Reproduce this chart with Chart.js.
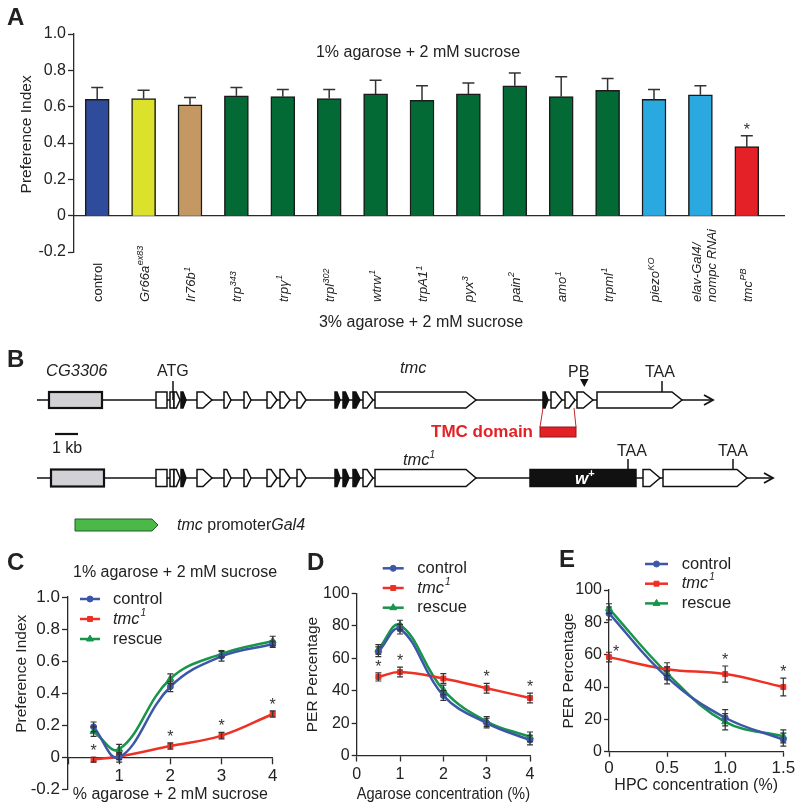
<!DOCTYPE html>
<html>
<head>
<meta charset="utf-8">
<script src="https://cdn.jsdelivr.net/npm/chart.js@4.4.0/dist/chart.umd.min.js"></script>
<style>
  html, body { margin: 0; padding: 0; background: #fff; }
  body { width: 800px; height: 812px; position: relative; overflow: hidden;
         font-family: 'Liberation Sans', Arial, sans-serif; }
  canvas, svg { position: absolute; }
  #chartA { left: 0; top: 0; }
  #chartC { left: 0; top: 540px; }
  #chartD { left: 270px; top: 540px; }
  #chartE { left: 540px; top: 540px; }
  #overlay { left: 0; top: 0; pointer-events: none; }
</style>
</head>
<body>
<canvas id="chartA" width="800" height="330"></canvas>
<canvas id="chartC" width="285" height="297"></canvas>
<canvas id="chartD" width="280" height="272"></canvas>
<canvas id="chartE" width="260" height="272"></canvas>
<svg id="overlay" width="800" height="812" font-family="Liberation Sans, Arial, sans-serif" fill="#222"></svg>

<script>
// ---------- A: preference index, 3% vs 1% agarose ----------
const genotypes = ['control', 'Gr66a', 'Ir76b', 'trp', 'trp\u03b3', 'trpl', 'wtrw', 'trpA1', 'pyx', 'pain',
                   'amo', 'trpml', 'piezo', 'elav-Gal4/|nompc RNAi', 'tmc'];
const genoSup = ['', 'ex83', '1', '343', '1', '302', '1', '1', '3', '2', '1', '1', 'KO', '', 'PB'];
const prefIndex = [0.64, 0.645, 0.61, 0.66, 0.655, 0.645, 0.67, 0.635, 0.67, 0.715, 0.655, 0.69, 0.64, 0.665, 0.38];
const prefErr = [0.065, 0.045, 0.04, 0.045, 0.04, 0.05, 0.075, 0.08, 0.06, 0.07, 0.11, 0.065, 0.055, 0.05, 0.06];
const sigA = [false, false, false, false, false, false, false, false, false, false, false, false, false, false, true];
const barColors = ['#2f4c9c', '#dce12b', '#c49863', '#036a36', '#036a36', '#036a36', '#036a36', '#036a36',
                   '#036a36', '#036a36', '#036a36', '#036a36', '#2aa8e0', '#2aa8e0', '#e42126'];

// ---------- C: preference index vs agarose ----------
const agaroseC = [0.5, 1, 2, 3, 4];
const piControl = [0.19, 0.0, 0.44, 0.63, 0.705];
const piControlErr = [0.03, 0.03, 0.03, 0.03, 0.02];
const piTmc = [-0.015, 0.005, 0.07, 0.135, 0.27];
const piTmcErr = [0.015, 0.02, 0.02, 0.02, 0.02];
const piRescue = [0.16, 0.05, 0.49, 0.645, 0.725];
const piRescueErr = [0.03, 0.03, 0.03, 0.02, 0.03];
const piStars = [true, false, true, true, true];

// ---------- D: PER vs agarose ----------
const agaroseD = [0.5, 1, 2, 3, 4];
const perAgaControl = [64, 78, 37, 20, 9.5];
const perAgaControlErr = [3, 3, 3, 3, 3];
const perAgaTmc = [48.5, 51.5, 47.5, 41.5, 35.5];
const perAgaTmcErr = [2.5, 3, 3, 3, 3];
const perAgaRescue = [65.5, 80.5, 40.5, 21, 11.5];
const perAgaRescueErr = [3, 3, 3, 3, 3];
const perAgaStars = [true, true, false, true, true];

// ---------- E: PER vs HPC ----------
const hpcE = [0, 0.5, 1.0, 1.5];
const perHpcControl = [85.5, 46, 21, 7.5];
const perHpcControlErr = [4, 4, 5, 4];
const perHpcTmc = [58.5, 51, 48, 40];
const perHpcTmcErr = [3, 4, 5, 5.5];
const perHpcRescue = [88.5, 48.5, 18.5, 9.5];
const perHpcRescueErr = [3, 4, 5, 4];
const perHpcStars = [true, false, true, true];

const FONT = "'Liberation Sans', Arial, sans-serif";
const AXIS = '#2a2a2a';
Chart.defaults.font.family = FONT;
Chart.defaults.color = '#222';

const fmt1 = v => Math.abs(v) < 1e-9 ? '0' : v.toFixed(1);
const fmt0 = v => String(Math.round(v));

/* ---------- plugins ---------- */
const errorBars = {
    id: 'errorBars',
    afterDatasetsDraw(chart) {
        const ctx = chart.ctx;
        const ys = chart.scales.y;
        chart.data.datasets.forEach((ds, di) => {
            if (!ds.errors) return;
            const meta = chart.getDatasetMeta(di);
            ctx.save();
            ctx.strokeStyle = '#333';
            ctx.fillStyle = '#333';
            meta.data.forEach((el, i) => {
                const v = typeof ds.data[i] === 'object' ? ds.data[i].y : ds.data[i];
                const e = ds.errors[i];
                const top = ys.getPixelForValue(v + e);
                const bot = ds.oneSided ? el.y : ys.getPixelForValue(v - e);
                const cap = ds.oneSided ? 6 : 3;
                ctx.lineWidth = ds.oneSided ? 1.5 : 1.2;
                ctx.beginPath();
                ctx.moveTo(el.x, bot); ctx.lineTo(el.x, top);
                ctx.moveTo(el.x - cap, top); ctx.lineTo(el.x + cap, top);
                if (!ds.oneSided) { ctx.moveTo(el.x - cap, bot); ctx.lineTo(el.x + cap, bot); }
                ctx.stroke();
                if (ds.stars && ds.stars[i]) {
                    ctx.font = '16px ' + FONT;
                    ctx.textAlign = 'center';
                    ctx.textBaseline = 'alphabetic';
                    const dx = i === 0 && el.x - chart.chartArea.left < 3 ? 7 : 0;
                    ctx.fillText('*', el.x + dx, top - 1 + (dx ? 6 : 0));
                }
            });
            ctx.restore();
        });
    }
};

const zeroLine = {
    id: 'zeroLine',
    beforeDatasetsDraw(chart, args, o) {
        const ctx = chart.ctx;
        const y = chart.scales.y.getPixelForValue(0);
        ctx.save();
        ctx.strokeStyle = AXIS;
        ctx.lineWidth = 1.3;
        ctx.beginPath();
        ctx.moveTo(chart.chartArea.left, y);
        ctx.lineTo(chart.chartArea.right + o.extend, y);
        ctx.stroke();
        ctx.restore();
    }
};

const genoLabels = {
    id: 'genoLabels',
    afterDraw(chart, args, o) {
        const ctx = chart.ctx;
        const xs = chart.scales.x;
        ctx.save();
        ctx.fillStyle = '#222';
        genotypes.forEach((g, i) => {
            const cx = xs.getPixelForValue(i);
            const lines = g.split('|');
            const style = i === 0 ? '' : 'italic ';
            lines.forEach((txt, li) => {
                const bx = lines.length > 1 ? cx + 1 + li * 15 : cx + 5;
                ctx.save();
                ctx.translate(bx, o.bottom);
                ctx.rotate(-Math.PI / 2);
                ctx.textAlign = 'left';
                ctx.textBaseline = 'alphabetic';
                ctx.font = style + '13px ' + FONT;
                ctx.fillText(txt, 0, 0);
                if (genoSup[i]) {
                    const w = ctx.measureText(txt).width;
                    ctx.font = style + '9px ' + FONT;
                    ctx.fillText(genoSup[i], w + 0.5, -5.5);
                }
                ctx.restore();
            });
        });
        ctx.restore();
    }
};

const lineLegend = {
    id: 'lineLegend',
    afterDraw(chart, args, o) {
        const ctx = chart.ctx;
        chart.data.datasets.forEach((ds, i) => {
            const y = o.y + i * o.dy;
            ctx.save();
            ctx.strokeStyle = ds.borderColor;
            ctx.fillStyle = ds.backgroundColor;
            ctx.lineWidth = 2.5;
            ctx.beginPath();
            ctx.moveTo(o.x, y); ctx.lineTo(o.x + o.w, y);
            ctx.stroke();
            ctx.lineWidth = 1;
            Chart.helpers.drawPoint(ctx, { pointStyle: ds.pointStyle, radius: ds.pointRadius, rotation: 0, borderWidth: 1 },
                o.x + o.w / 2, y);
            ctx.fillStyle = '#222';
            ctx.textBaseline = 'middle';
            ctx.textAlign = 'left';
            ctx.font = (ds.italic ? 'italic ' : '') + '16.5px ' + FONT;
            ctx.fillText(ds.label, o.textX, y);
            if (ds.labelSup) {
                const w = ctx.measureText(ds.label).width;
                ctx.font = 'italic 10px ' + FONT;
                ctx.fillText(ds.labelSup, o.textX + w + 1, y - 6);
            }
            ctx.restore();
        });
    }
};

/* ---------- axis helpers ---------- */
function yAxis(min, max, step, width, title, titlePad, tickSize, fmt, tickLen) {
    return {
        min: min, max: max,
        ticks: { stepSize: step, font: { size: tickSize }, padding: 2, callback: fmt, color: '#222' },
        grid: { drawOnChartArea: false, tickLength: tickLen, tickColor: AXIS, tickWidth: 1.3 },
        border: { color: AXIS, width: 1.3 },
        title: { display: true, text: title, font: { size: 15.5 }, color: '#222', padding: { top: titlePad, bottom: 0 } },
        afterFit: s => { s.width = width; }
    };
}

function xAxis(min, max, step, height, title, titlePad, tickSize, fmt, tickLen, tickPad, position) {
    return {
        type: 'linear', min: min, max: max, position: position || 'bottom',
        ticks: { stepSize: step, font: { size: tickSize }, padding: tickPad, callback: fmt, color: '#222', maxRotation: 0 },
        grid: { drawOnChartArea: false, tickLength: tickLen, tickColor: AXIS, tickWidth: 1.3 },
        border: { color: AXIS, width: 1.3 },
        title: { display: true, text: title, font: { size: 16 }, color: '#222', padding: { top: 0, bottom: titlePad } },
        afterFit: s => { s.height = height; }
    };
}

const pts = (xs, ys) => xs.map((x, i) => ({ x: x, y: ys[i] }));

function series(label, xs, ys, errs, color, style, radius, extra) {
    return Object.assign({
        label: label, data: pts(xs, ys), errors: errs,
        borderColor: color, backgroundColor: color, borderWidth: 2.5,
        pointStyle: style, pointRadius: radius, pointBorderWidth: 1,
        tension: 0.4, clip: false
    }, extra || {});
}

function lineChart(id, xs, sets, scales, padding, legend) {
    return new Chart(document.getElementById(id), {
        type: 'line',
        data: {
            datasets: [
                series('control', xs, sets[0], sets[1], '#3d57a8', 'circle', 3),
                series('tmc', xs, sets[2], sets[3], '#ee3125', 'rect', 3.5,
                    { italic: true, labelSup: '1', stars: sets[6] }),
                series('rescue', xs, sets[4], sets[5], '#17954a', 'triangle', 4)
            ]
        },
        options: {
            responsive: false, animation: false,
            layout: { padding: padding },
            plugins: { legend: { display: false }, tooltip: { enabled: false }, lineLegend: legend },
            scales: scales
        },
        plugins: [errorBars, lineLegend]
    });
}

/* ---------- A ---------- */
new Chart(document.getElementById('chartA'), {
    type: 'bar',
    data: {
        labels: genotypes,
        datasets: [{
            data: prefIndex, errors: prefErr, oneSided: true, stars: sigA,
            backgroundColor: barColors, borderColor: '#1b1b1b', borderWidth: 1.5,
            barThickness: 24
        }]
    },
    options: {
        responsive: false, animation: false,
        layout: { padding: { left: 0, top: 34, right: 30, bottom: 78 } },
        plugins: { legend: { display: false }, tooltip: { enabled: false },
                   zeroLine: { extend: 15 }, genoLabels: { bottom: 302 } },
        scales: {
            x: { display: false },
            y: yAxis(-0.2, 1.0, 0.2, 74, '    Preference Index', 17.4, 16, fmt1, 6)
        }
    },
    plugins: [zeroLine, errorBars, genoLabels]
});

/* ---------- C ---------- */
// the x axis sits on y = 0 and takes no layout room, so the bottom padding sets where -0.2 falls
lineChart('chartC', agaroseC,
    [piControl, piControlErr, piTmc, piTmcErr, piRescue, piRescueErr, piStars],
    {
        x: xAxis(0, 4, 1, 48, '% agarose + 2 mM sucrose', 1, 17, v => v === 0 ? '' : String(v), 6, 3, { y: 0 }),
        y: yAxis(-0.2, 1.0, 0.2, 68, '         Preference Index', 12.4, 17, fmt1, 6)
    },
    { left: 0, top: 57, right: 12.3, bottom: 47.7 },
    { x: 80, w: 20, textX: 113, y: 59, dy: 20 });

/* ---------- D ---------- */
lineChart('chartD', agaroseD,
    [perAgaControl, perAgaControlErr, perAgaTmc, perAgaTmcErr, perAgaRescue, perAgaRescueErr, perAgaStars],
    {
        x: xAxis(0, 4, 1, 56.5, 'Agarose concentration (%)', 7.4, 16, fmt0, 6, 3),
        y: yAxis(0, 100, 20, 86.7, 'PER Percentage', 33.4, 16, fmt0, 5)
    },
    { left: 0, top: 53.5, right: 20, bottom: 0 },
    { x: 112.7, w: 21, textX: 147.3, y: 28.3, dy: 19.7 });

/* ---------- E ---------- */
lineChart('chartE', hpcE,
    [perHpcControl, perHpcControlErr, perHpcTmc, perHpcTmcErr, perHpcRescue, perHpcRescueErr, perHpcStars],
    {
        x: xAxis(0, 1.5, 0.5, 60.3, 'HPC concentration (%)', 16.4, 17, v => v === 0 ? '0' : v.toFixed(1), 5, 1),
        y: yAxis(0, 100, 20, 69, 'PER Percentage', 19, 16, fmt0, 5)
    },
    { left: 0, top: 50, right: 16.7, bottom: 0 },
    { x: 105, w: 23, textX: 141.7, y: 24, dy: 19.7 });

/* ---------- panel letters, captions and the gene diagram (B) ---------- */
const svg = document.getElementById('overlay');
const NS = 'http://www.w3.org/2000/svg';
function el(name, attrs, text) {
    const e = document.createElementNS(NS, name);
    for (const k in attrs) e.setAttribute(k, attrs[k]);
    if (text !== undefined) e.textContent = text;
    svg.appendChild(e);
    return e;
}
function richText(x, y, parts, attrs) {
    const t = el('text', Object.assign({ x: x, y: y }, attrs || {}));
    parts.forEach(p => {
        const s = document.createElementNS(NS, 'tspan');
        if (p.i) s.setAttribute('font-style', 'italic');
        if (p.sup) { s.setAttribute('font-size', p.sup); s.setAttribute('dy', -7); }
        s.textContent = p.t;
        t.appendChild(s);
    });
    return t;
}

el('text', { x: 7, y: 25, 'font-size': 24, 'font-weight': 'bold' }, 'A');
el('text', { x: 418, y: 57, 'font-size': 16, 'text-anchor': 'middle' }, '1% agarose + 2 mM sucrose');
el('text', { x: 421, y: 327, 'font-size': 16, 'text-anchor': 'middle' }, '3% agarose + 2 mM sucrose');
el('text', { x: 7, y: 367, 'font-size': 24, 'font-weight': 'bold' }, 'B');
el('text', { x: 7, y: 570, 'font-size': 24, 'font-weight': 'bold' }, 'C');
el('text', { x: 307, y: 570, 'font-size': 24, 'font-weight': 'bold' }, 'D');
el('text', { x: 559, y: 567, 'font-size': 24, 'font-weight': 'bold' }, 'E');
el('text', { x: 73, y: 577, 'font-size': 16 }, '1% agarose + 2 mM sucrose');

// gene model
const exonsCommon = [
    [156, 167, 'w', 'rect'], [170, 174, 'w', 'rect'], [174, 180, 'w', 'pent'], [181, 186, 'k', 'pent'],
    [197, 212, 'w', 'pent'], [224, 231, 'w', 'pent'], [244, 251, 'w', 'pent'], [267, 277, 'w', 'pent'],
    [280, 290, 'w', 'pent'], [297, 306, 'w', 'pent'], [335, 340, 'k', 'pent'], [343, 349, 'k', 'pent'],
    [353, 360, 'k', 'pent'], [363, 373, 'w', 'pent'], [375, 476, 'w', 'pent']
];
const exonsWT = [[543, 548, 'k', 'pent'], [551, 562, 'w', 'pent'], [565, 575, 'w', 'pent'],
                 [577, 593, 'w', 'pent'], [597, 682, 'w', 'pent']];
const exonsMut = [[530, 636, 'k', 'rect'], [643, 660, 'w', 'pent'], [663, 747, 'w', 'pent']];

function geneRow(yc, h, end, cgX1, cgX2, exons) {
    el('line', { x1: 37, y1: yc, x2: end, y2: yc, stroke: '#111', 'stroke-width': 1.6 });
    el('polyline', { points: `${end - 9},${yc - 5} ${end},${yc} ${end - 9},${yc + 5}`,
                     fill: 'none', stroke: '#111', 'stroke-width': 1.8 });
    el('rect', { x: cgX1, y: yc - h / 2, width: cgX2 - cgX1, height: h,
                 fill: '#d2d2d6', stroke: '#111', 'stroke-width': 2.2 });
    exons.forEach(([a, b, f, kind]) => {
        const fill = f === 'k' ? '#111' : '#fff';
        const top = yc - h / 2, bot = yc + h / 2;
        if (kind === 'rect') {
            el('rect', { x: a, y: top, width: b - a, height: h, fill: fill, stroke: '#111', 'stroke-width': 1.5 });
        } else {
            const tip = Math.min(10, (b - a) * 0.6);
            el('polygon', { points: `${a},${top} ${b - tip},${top} ${b},${yc} ${b - tip},${bot} ${a},${bot}`,
                            fill: fill, stroke: '#111', 'stroke-width': 1.5 });
        }
    });
}
geneRow(400, 16, 713, 49, 102, exonsCommon.concat(exonsWT));
geneRow(478, 17, 773, 51, 104, exonsCommon.concat(exonsMut));

richText(46, 376, [{ t: 'CG3306', i: true }], { 'font-size': 16.5 });
el('text', { x: 157, y: 376, 'font-size': 16 }, 'ATG');
el('line', { x1: 173, y1: 381, x2: 173, y2: 400, stroke: '#111', 'stroke-width': 1.5 });
richText(400, 373, [{ t: 'tmc', i: true }], { 'font-size': 16.5 });
el('text', { x: 568, y: 377, 'font-size': 16 }, 'PB');
el('polygon', { points: '580,379 588.5,379 584.3,387', fill: '#111' });
el('text', { x: 645, y: 377, 'font-size': 16 }, 'TAA');
el('line', { x1: 662, y1: 381, x2: 662, y2: 392, stroke: '#111', 'stroke-width': 1.5 });

el('line', { x1: 55, y1: 434, x2: 78, y2: 434, stroke: '#111', 'stroke-width': 2.2 });
el('text', { x: 52, y: 453, 'font-size': 16 }, '1 kb');

el('line', { x1: 543, y1: 408, x2: 540, y2: 427, stroke: '#c0272d', 'stroke-width': 1 });
el('line', { x1: 574, y1: 408, x2: 576, y2: 427, stroke: '#c0272d', 'stroke-width': 1 });
el('rect', { x: 540, y: 427, width: 36, height: 10, fill: '#e42126', stroke: '#8a1a1a', 'stroke-width': 1 });
el('text', { x: 533, y: 437, 'font-size': 17, 'font-weight': 'bold', fill: '#e42126', 'text-anchor': 'end' }, 'TMC domain');

richText(403, 465, [{ t: 'tmc', i: true }, { t: '1', i: true, sup: 10 }], { 'font-size': 16.5 });
richText(575, 484, [{ t: 'w', i: true }, { t: '+', sup: 11 }], { 'font-size': 17, 'font-weight': 'bold', fill: '#fff' });
el('text', { x: 617, y: 456, 'font-size': 16 }, 'TAA');
el('line', { x1: 628, y1: 459, x2: 628, y2: 469, stroke: '#111', 'stroke-width': 1.5 });
el('text', { x: 718, y: 456, 'font-size': 16 }, 'TAA');
el('line', { x1: 733, y1: 459, x2: 733, y2: 469, stroke: '#111', 'stroke-width': 1.5 });

el('polygon', { points: '75,519 152,519 158,525 152,531 75,531', fill: '#4bb848', stroke: '#1d5e22', 'stroke-width': 1 });
richText(177, 530, [{ t: 'tmc', i: true }, { t: ' promoter' }, { t: 'Gal4', i: true }], { 'font-size': 16 });
</script>
</body>
</html>
